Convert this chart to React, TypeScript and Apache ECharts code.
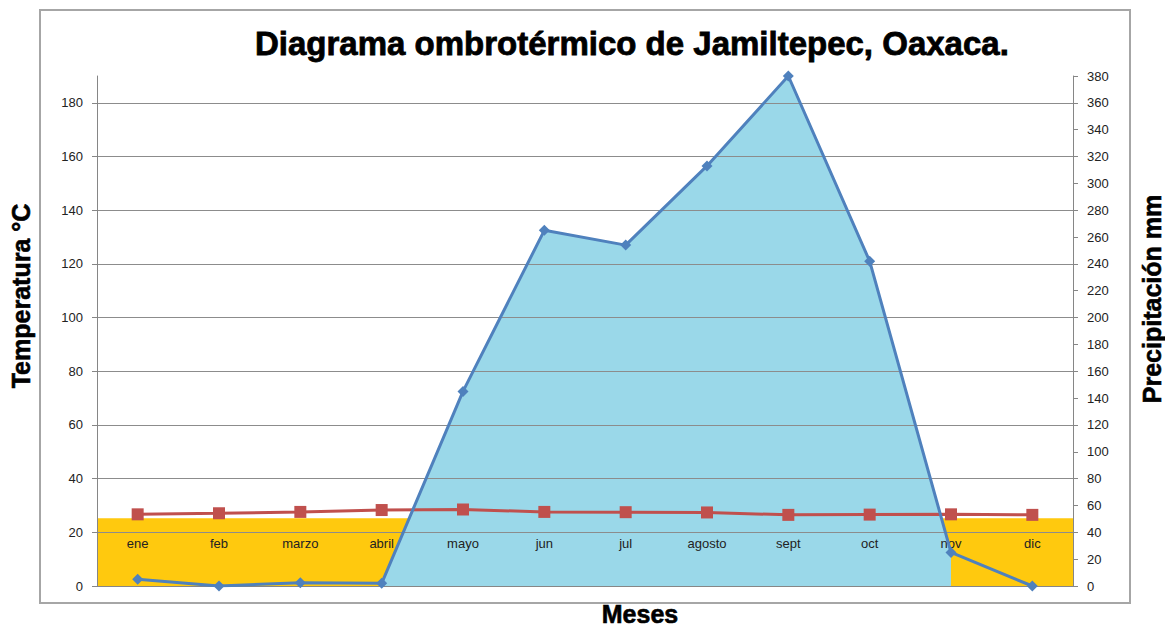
import React, { useEffect, useRef } from "react";
import * as echarts from "echarts";

const categories = ["ene", "feb", "marzo", "abril", "mayo", "jun", "jul", "agosto", "sept", "oct", "nov", "dic"];
const temperature = [26.7, 27.1, 27.6, 28.3, 28.5, 27.6, 27.5, 27.4, 26.5, 26.6, 26.7, 26.5];
const precipitation = [5, 0, 2.5, 2, 145, 265, 254, 313, 380, 242, 25, 0];
const humidMonths = ["abril", "mayo", "jun", "jul", "agosto", "sept", "oct", "nov"];
const dryBand = [50.4, 50.4];
const tempTicks = [0, 20, 40, 60, 80, 100, 120, 140, 160, 180];

const FONT = "Liberation Sans, Arial, sans-serif";

export default function App() {
  const ref = useRef<HTMLDivElement>(null);
  useEffect(() => {
    if (!ref.current) return;
    const chart = echarts.init(ref.current, null, { renderer: "svg" });
    const humid = categories.map((c, i) => (humidMonths.includes(c) ? precipitation[i] : null));
    const axisColor = "#868686";
    const nameStyle = {
      font: "bold 25px " + FONT,
      fill: "#000",
      stroke: "#000",
      lineWidth: 0.6,
      textAlign: "center",
      textVerticalAlign: "middle",
    };
    chart.setOption({
      animation: false,
      backgroundColor: "#ffffff",
      title: {
        text: "Diagrama ombrotérmico de Jamiltepec, Oaxaca.",
        left: 250,
        top: 22,
        textStyle: {
          fontFamily: FONT,
          fontWeight: "bold",
          fontSize: 33,
          color: "#000",
          textBorderColor: "#000",
          textBorderWidth: 0.8,
        },
      },
      graphic: [
        {
          type: "rect",
          z: -1,
          shape: { x: 40, y: 10, width: 1090, height: 593 },
          style: { fill: "none", stroke: "#a6a6a6", lineWidth: 2 },
        },
        {
          type: "text",
          x: 21,
          y: 296,
          rotation: Math.PI / 2,
          style: { ...nameStyle, text: "Temperatura °C" },
        },
        {
          type: "text",
          x: 1152,
          y: 299,
          rotation: Math.PI / 2,
          style: { ...nameStyle, text: "Precipitación mm" },
        },
        {
          type: "text",
          x: 640,
          y: 614,
          style: { ...nameStyle, text: "Meses" },
        },
      ],
      grid: { left: 97, top: 76, right: 92, bottom: 43, containLabel: false },
      xAxis: [
        {
          type: "category",
          data: categories,
          boundaryGap: true,
          z: 2,
          axisLine: { show: true, lineStyle: { color: axisColor, width: 1 } },
          axisTick: { show: false },
          axisLabel: { margin: -49, fontSize: 13, color: "#222", fontFamily: FONT },
          splitLine: { show: false },
        },
        {
          type: "category",
          data: ["", ""],
          boundaryGap: false,
          show: false,
        },
      ],
      yAxis: [
        {
          type: "value",
          position: "left",
          min: 0,
          max: 190,
          interval: 20,
          z: 2,
          axisLine: { show: true, lineStyle: { color: axisColor, width: 1 } },
          axisTick: { show: true, length: 5, customValues: tempTicks, lineStyle: { color: axisColor } },
          axisLabel: { customValues: tempTicks, margin: 14, fontSize: 13, color: "#222", fontFamily: FONT },
          splitLine: { show: false },
        },
        {
          type: "value",
          position: "right",
          min: 0,
          max: 380,
          interval: 20,
          z: 2,
          axisLine: { show: true, lineStyle: { color: axisColor, width: 1 } },
          axisTick: { show: true, length: 5, lineStyle: { color: axisColor } },
          axisLabel: { margin: 14, fontSize: 13, color: "#222", fontFamily: FONT },
          splitLine: { show: true, lineStyle: { color: ["#8c8c8c", "transparent"], width: 1 } },
        },
      ],
      series: [
        {
          name: "Seco",
          type: "line",
          xAxisIndex: 1,
          yAxisIndex: 1,
          data: dryBand,
          symbol: "none",
          lineStyle: { width: 0 },
          areaStyle: { color: "#FFC90E", opacity: 1 },
          z: 0,
          silent: true,
        },
        {
          name: "Húmedo",
          type: "line",
          xAxisIndex: 0,
          yAxisIndex: 1,
          data: humid,
          symbol: "none",
          connectNulls: false,
          lineStyle: { width: 0 },
          areaStyle: { color: "#9AD8E9", opacity: 1 },
          z: 1,
          silent: true,
        },
        {
          name: "Temperatura",
          type: "line",
          xAxisIndex: 0,
          yAxisIndex: 0,
          data: temperature,
          symbol: "rect",
          symbolSize: 12,
          lineStyle: { color: "#C0504D", width: 3 },
          itemStyle: { color: "#C0504D" },
          z: 3,
        },
        {
          name: "Precipitación",
          type: "line",
          xAxisIndex: 0,
          yAxisIndex: 1,
          data: precipitation,
          symbol: "diamond",
          symbolSize: 11,
          lineStyle: { color: "#4F81BD", width: 3 },
          itemStyle: { color: "#4F81BD" },
          z: 4,
        },
      ],
    });
    return () => chart.dispose();
  }, []);
  return (
    <div
      ref={ref}
      style={{ position: "fixed", left: 0, top: 0, width: 1165, height: 629 }}
    />
  );
}
